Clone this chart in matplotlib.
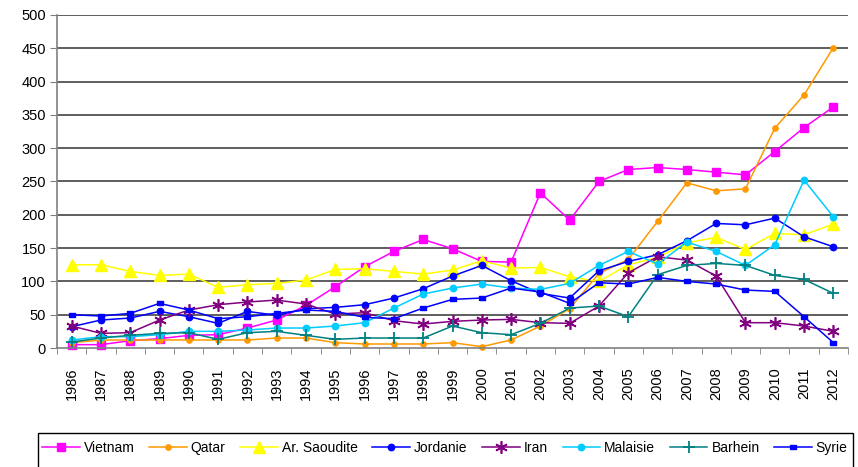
import matplotlib
matplotlib.use('Agg')
from matplotlib import pyplot as plt
from matplotlib.patches import Rectangle
import numpy as np

plt.rcParams['font.family'] = ['Liberation Sans', 'DejaVu Sans']

years = list(range(1986, 2013))

vietnam = [5, 5, 11, 14, 19, 20, 30, 42, 64, 92, 122, 145, 163, 149, 130, 129,
           233, 192, 250, 268, 271, 268, 264, 260, 295, 331, 362]
qatar = [8, 12, 12, 12, 12, 12, 12, 15, 15, 8, 6, 6, 6, 8, 2, 12,
         33, 59, 112, 133, 190, 248, 236, 239, 330, 380, 451]
saoudite = [125, 125, 115, 109, 111, 91, 95, 97, 102, 118, 119, 115, 111, 117, 131, 120,
            121, 107, 100, 125, 136, 158, 166, 148, 172, 170, 186]
jordanie = [32, 42, 45, 55, 47, 37, 55, 49, 59, 61, 65, 75, 89, 108, 124, 101,
            82, 75, 116, 130, 140, 161, 187, 185, 195, 167, 152]
iran = [33, 22, 23, 42, 57, 65, 69, 72, 66, 51, 53, 41, 36, 40, 42, 43,
        38, 37, 63, 113, 137, 132, 108, 38, 38, 33, 25]
malaisie = [12, 17, 17, 20, 25, 25, 27, 30, 30, 33, 38, 60, 81, 90, 96, 90,
            88, 97, 124, 145, 126, 159, 145, 124, 155, 252, 197]
barhein = [9, 15, 19, 22, 23, 13, 23, 25, 19, 13, 15, 15, 15, 33, 23, 20,
           37, 60, 63, 47, 110, 124, 127, 124, 109, 103, 82]
syrie = [50, 48, 52, 67, 57, 44, 47, 52, 57, 55, 46, 44, 60, 73, 75, 90,
         84, 67, 98, 96, 106, 100, 96, 87, 85, 47, 8]

# flat dash marker used by the Syrie series
dash = [(-1, -0.45), (1, -0.45), (1, 0.45), (-1, 0.45), (-1, -0.45)]

series = [
    ('Vietnam', vietnam, '#FF00FF', 's', 6.0, 1.0),
    ('Qatar', qatar, '#FF9900', 'o', 3.8, 1.0),
    ('Ar. Saoudite', saoudite, '#FFFF00', '^', 8.0, 1.0),
    ('Jordanie', jordanie, '#0000FF', 'o', 4.6, 1.0),
    ('Iran', iran, '#800080', (6, 2, 0), 9.0, 1.2),
    ('Malaisie', malaisie, '#00CCFF', 'o', 4.6, 1.0),
    ('Barhein', barhein, '#008080', '+', 8.5, 1.3),
    ('Syrie', syrie, '#0000FF', dash, 5.0, 1.0),
]

fig = plt.figure(figsize=(8.58, 4.67), dpi=100)
ax = fig.add_axes([57 / 858, 1 - 348 / 467, (848 - 57) / 858, (348 - 15) / 467])

x = np.arange(len(years))
for name, vals, col, mk, ms, mew in series:
    ax.plot(x, vals, color=col, lw=1.1, marker=mk, ms=ms, mew=mew,
            mfc=col, mec=col, label=name, clip_on=False)

ax.set_xlim(-0.5, len(years) - 0.5)
ax.set_ylim(0, 500)
ax.set_yticks(range(0, 501, 50))
for v in range(50, 501, 50):
    ax.axhline(v, color='#333333', lw=1.1, zorder=0)

ax.set_xticks(x)
ax.set_xticklabels([str(y) for y in years], rotation=90)
ax.set_xticks(np.arange(-0.5, len(years), 1), minor=True)
ax.tick_params(axis='x', which='major', length=0, pad=14, labelsize=10.5)
ax.tick_params(axis='x', which='minor', length=4, color='#808080', direction='out')
ax.tick_params(axis='y', length=5, color='#808080', pad=3, labelsize=10.5)

for s in ['top', 'right']:
    ax.spines[s].set_visible(False)
ax.spines['left'].set_color('#808080')
ax.spines['bottom'].set_color('#808080')
ax.spines['left'].set_linewidth(1.2)
ax.spines['bottom'].set_linewidth(1.2)

# legend frame runs off the lower edge of the figure
fig.patches.append(Rectangle((38 / 858, -0.1), (853 - 38) / 858, 1.1 - 433 / 467,
                             transform=fig.transFigure, fill=False,
                             edgecolor='black', lw=1.0))
fig.legend(loc='center left', bbox_to_anchor=(42 / 858, 1 - 448 / 467), ncol=8,
           frameon=False, fontsize=10, handlelength=2.7, handletextpad=0.3,
           columnspacing=1.05, borderaxespad=0, borderpad=0)

fig.savefig('out.png', dpi=100)
